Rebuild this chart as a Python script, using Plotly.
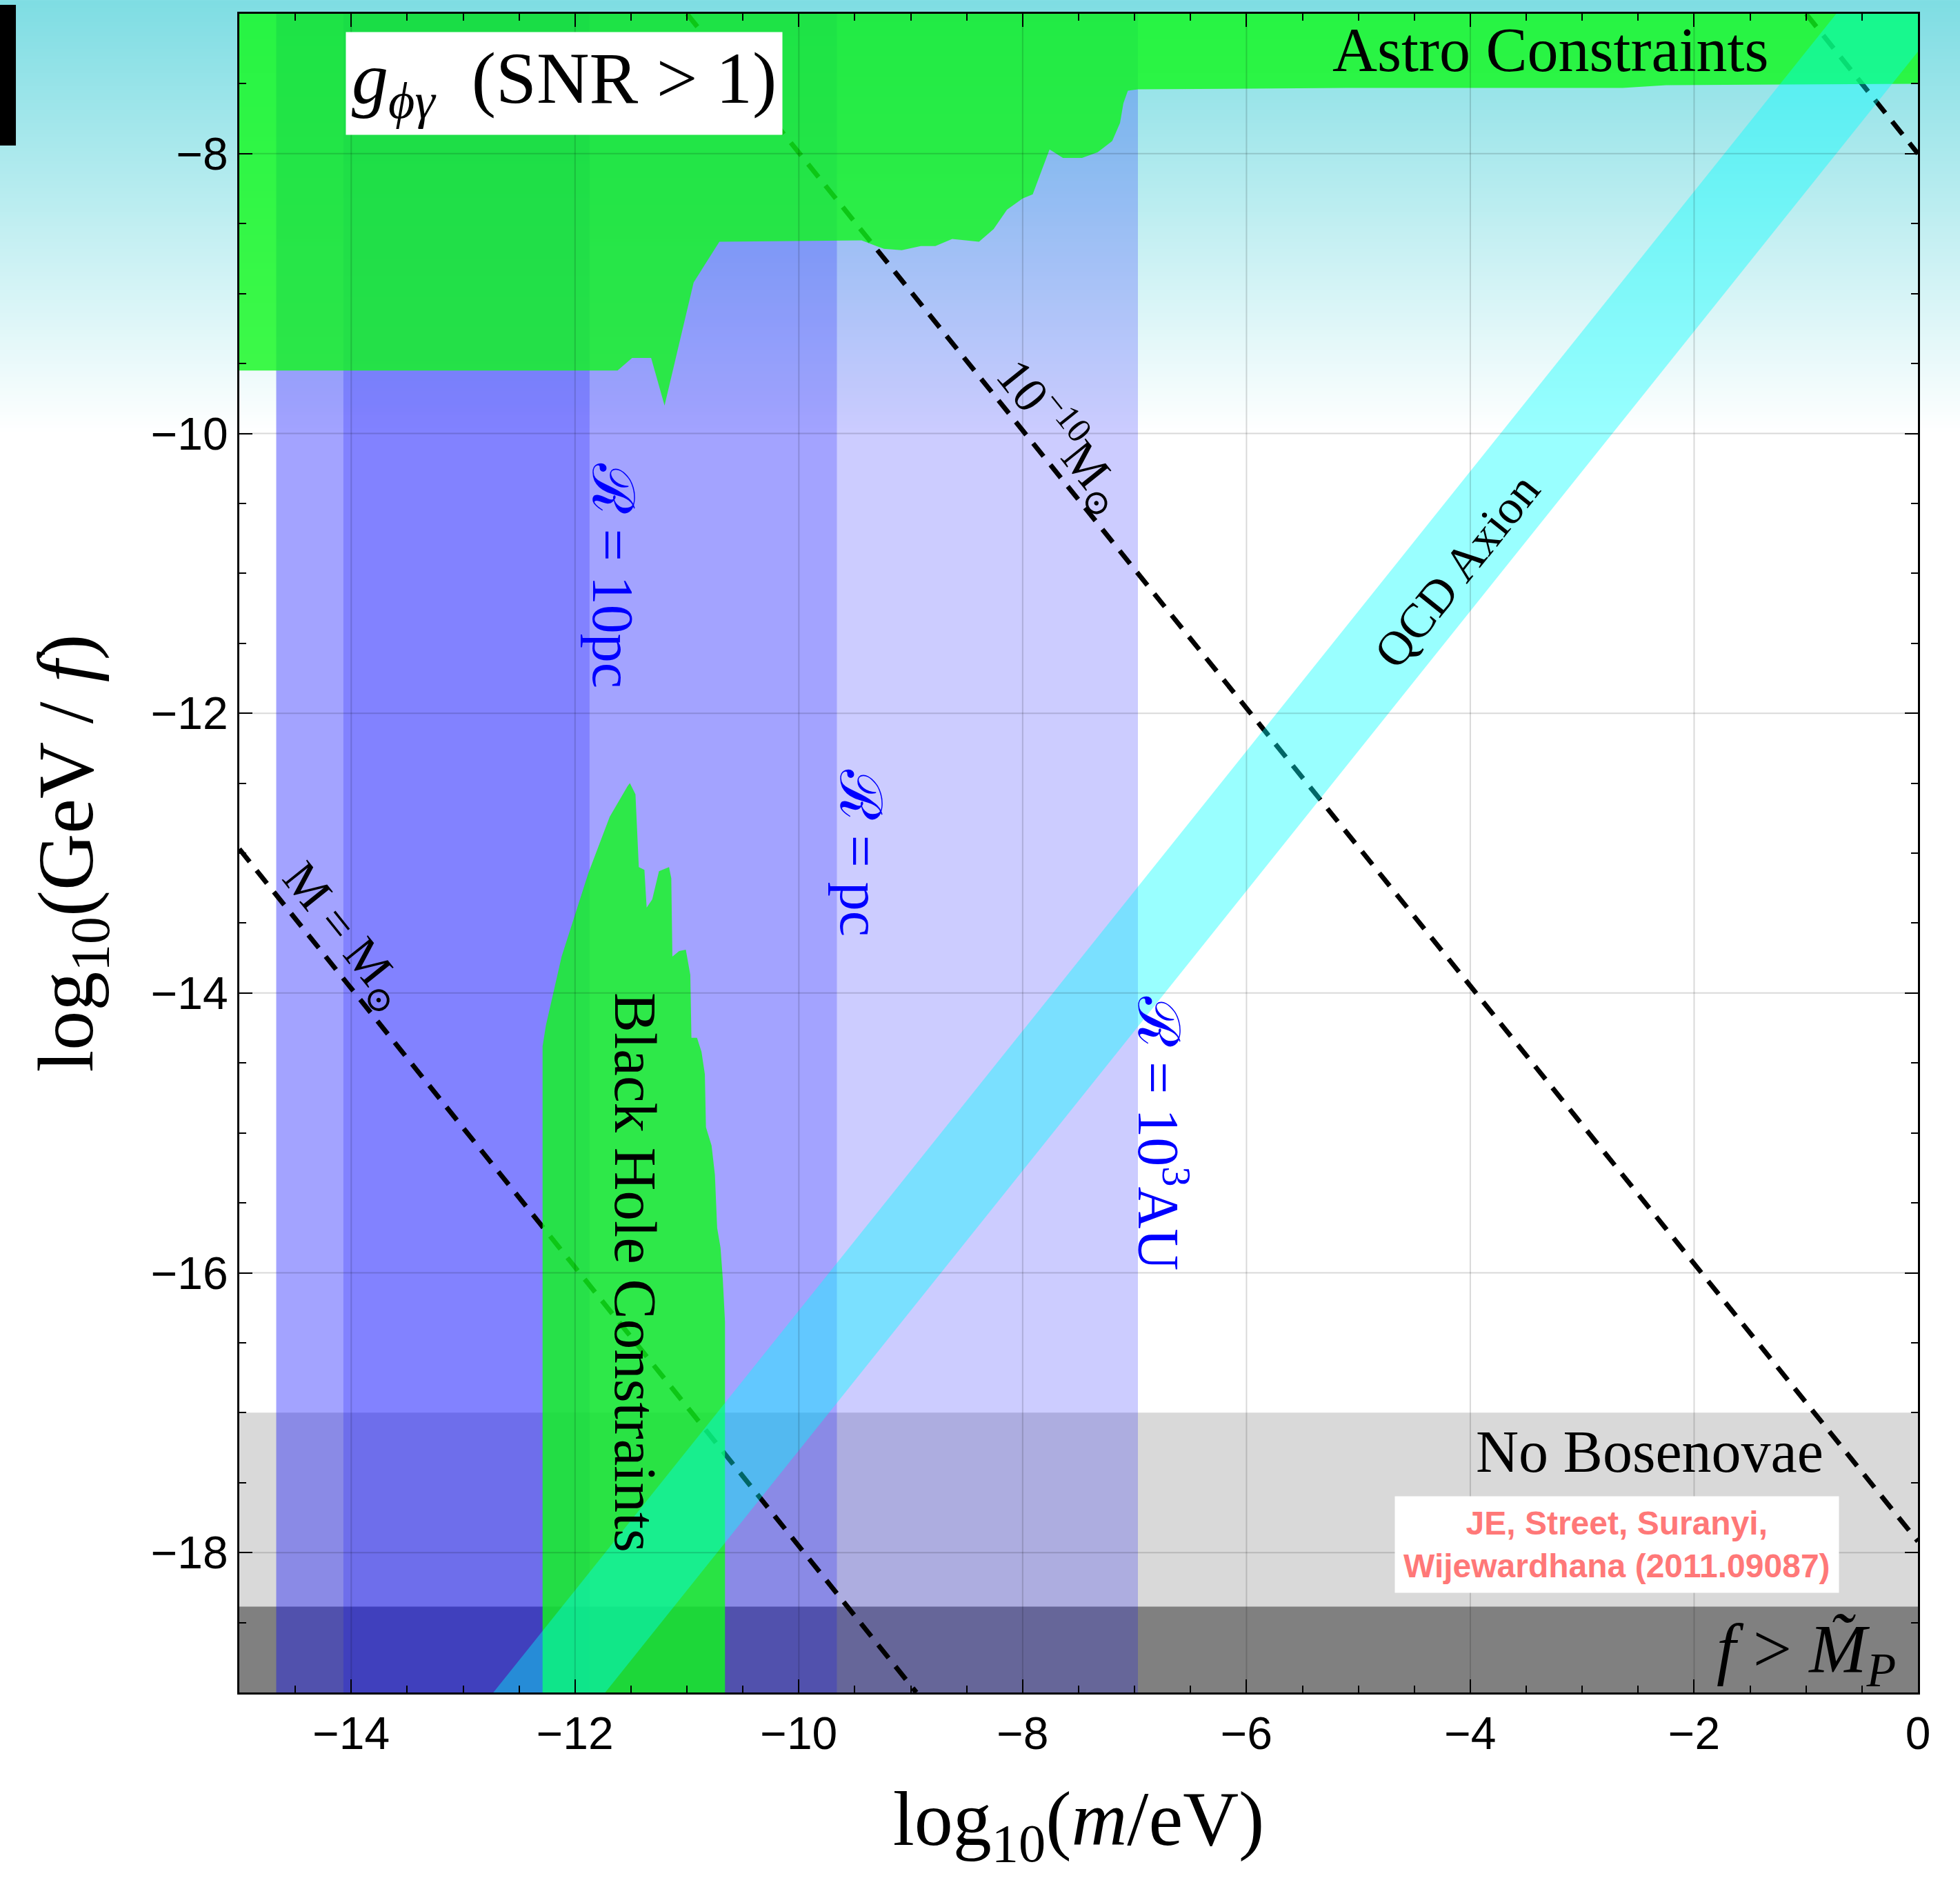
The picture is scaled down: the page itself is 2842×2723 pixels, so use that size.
import base64
import struct
import zlib
import plotly.graph_objects as go

# ---------------- data ----------------
x_range = [-15, 0]
y_range = [-19, -7]
x_ticks = [-14, -12, -10, -8, -6, -4, -2, 0]
y_ticks = [-18, -16, -14, -12, -10, -8]

# radius bands (log10 m edges)
band_labels = ["ℛ = 10<sup>3</sup>AU", "ℛ = pc", "ℛ = 10pc"]
band_x0 = [-14.67, -14.67, -14.07]
band_x1 = [-6.97, -9.66, -11.87]
band_label_x = [-6.75, -9.45, -11.66]
band_label_y = [-15.0, -13.0, -11.02]

# horizontal exclusions
bosenova_top = -17.0
planck_top = -18.386

# astro constraints (upper green region) boundary
astro_x = [-15.0, -15.0, -11.62, -11.49, -11.32, -11.20, -10.94, -10.71, -9.44,
           -9.24, -9.08, -8.91, -8.78, -8.63, -8.39, -8.26, -8.14, -8.00, -7.91,
           -7.83, -7.76, -7.64, -7.47, -7.33, -7.20, -7.13, -7.10, -7.06, -6.97,
           -5.12, -2.64, -2.25, 0.0, 0.0]
astro_y = [-7.0, -9.55, -9.55, -9.46, -9.46, -9.80, -8.92, -8.63, -8.62,
           -8.68, -8.69, -8.66, -8.66, -8.61, -8.63, -8.54, -8.40, -8.32, -8.29,
           -8.12, -7.97, -8.03, -8.03, -7.99, -7.91, -7.78, -7.64, -7.55, -7.54,
           -7.53, -7.53, -7.51, -7.50, -7.0]

# black hole superradiance constraints boundary
bh_x = [-11.51, -11.46, -11.43, -11.38, -11.36, -11.31, -11.25, -11.16, -11.14,
        -11.13, -11.07, -11.01, -10.97, -10.96, -10.91, -10.87, -10.84, -10.83,
        -10.78, -10.75, -10.73, -10.70, -10.68, -10.66, -10.66, -12.29, -12.29,
        -12.26, -12.12, -11.88, -11.69, -11.53]
bh_y = [-12.50, -12.58, -13.10, -13.12, -13.39, -13.33, -13.13, -13.10, -13.18,
        -13.74, -13.70, -13.69, -13.87, -14.32, -14.32, -14.42, -14.58, -14.96,
        -15.09, -15.30, -15.68, -15.82, -16.04, -16.35, -19.0, -19.0, -14.38,
        -14.23, -13.74, -13.14, -12.74, -12.52]

# QCD axion band corners
qcd_x = [-12.73, -0.73, 0.27, -11.73]
qcd_y = [-19.0, -7.0, -7.0, -19.0]

# constant-mass dashed lines (end points)
msun_x, msun_y = [-15.0, -8.95], [-12.97, -19.0]
m10_x, m10_y = [-11.0, 0.0], [-7.0, -17.92]
m20_x, m20_y = [-1.0, 0.0], [-7.0, -8.0]

# ---------------- styling ----------------
SERIF = "Liberation Serif, DejaVu Serif, serif"
SANS = "Liberation Sans, Arial, sans-serif"
BLUE = "rgba(0,0,255,0.2)"
GREEN = "rgba(16,249,28,0.8)"
CYAN = "rgba(0,255,255,0.4)"


def gradient_png(top, bottom, n=128):
    rows = b""
    for i in range(n):
        t = i / (n - 1)
        c = bytes(int(round(top[k] + (bottom[k] - top[k]) * t)) for k in range(3))
        rows += b"\x00" + c

    def chunk(tag, data):
        return (struct.pack(">I", len(data)) + tag + data +
                struct.pack(">I", zlib.crc32(tag + data) & 0xffffffff))

    png = b"\x89PNG\r\n\x1a\n"
    png += chunk(b"IHDR", struct.pack(">IIBBBBB", 1, n, 8, 2, 0, 0, 0))
    png += chunk(b"IDAT", zlib.compress(rows))
    png += chunk(b"IEND", b"")
    return "data:image/png;base64," + base64.b64encode(png).decode()


fig = go.Figure()


def poly(xs, ys, color):
    fig.add_trace(go.Scatter(x=xs, y=ys, fill="toself", fillcolor=color,
                             mode="lines", line=dict(width=0, color=color),
                             hoverinfo="skip", showlegend=False))


# gray exclusion bands
poly([x_range[0], x_range[1], x_range[1], x_range[0]],
     [y_range[0], y_range[0], bosenova_top, bosenova_top], "#d9d9d9")
poly([x_range[0], x_range[1], x_range[1], x_range[0]],
     [y_range[0], y_range[0], planck_top, planck_top], "#808080")

# blue radius bands
for x0, x1 in zip(band_x0, band_x1):
    poly([x0, x1, x1, x0], [y_range[0], y_range[0], y_range[1], y_range[1]], BLUE)

# dashed lines
for lx, ly in [(msun_x, msun_y), (m10_x, m10_y), (m20_x, m20_y)]:
    fig.add_trace(go.Scatter(x=lx, y=ly, mode="lines",
                             line=dict(color="black", width=7, dash="24px,16px"),
                             hoverinfo="skip", showlegend=False))

# green constraints
poly(astro_x, astro_y, GREEN)
poly(bh_x, bh_y, GREEN)

# QCD axion band
poly(qcd_x, qcd_y, CYAN)

# grid lines on top
gx, gy = [], []
for t in x_ticks:
    if x_range[0] < t < x_range[1]:
        gx += [t, t, None]
        gy += [y_range[0], y_range[1], None]
for t in y_ticks:
    if y_range[0] < t < y_range[1]:
        gx += [x_range[0], x_range[1], None]
        gy += [t, t, None]
fig.add_trace(go.Scatter(x=gx, y=gy, mode="lines",
                         line=dict(color="rgba(0,0,0,0.15)", width=2),
                         hoverinfo="skip", showlegend=False))

# ---------------- annotations ----------------
ann = []


def label(text, x, y, size, color="black", angle=0, family=SERIF, **kw):
    ann.append(dict(text=text, x=x, y=y, xref="x", yref="y", showarrow=False,
                    textangle=angle, font=dict(family=family, size=size, color=color),
                    xanchor="center", yanchor="middle", **kw))


label("<i>g</i><sub><i>ϕγ</i></sub>  (SNR &gt; 1)", -12.10, -7.50, 106,
      bgcolor="white", borderpad=8)
label("Astro Constraints", -3.28, -7.26, 90)
label("No Bosenovae", -2.40, -17.28, 86)
label("<i>f</i> &gt; <i>M̃</i><sub><i>P</i></sub>", -1.0, -18.72, 100)
label("<b>JE, Street, Suranyi,<br>Wijewardhana (2011.09087)</b>", -2.69, -17.94, 48,
      color="#ff7878", family=SANS, bgcolor="white", borderpad=12)
for t, bx, by in zip(band_labels, band_label_x, band_label_y):
    label(t, bx, by, 84, color="#0000ff", angle=90)
label("Black Hole Constraints", -11.46, -16.0, 87, angle=90)
label("10<sup>−10</sup>M<sub>⊙</sub>", -7.64, -10.01, 72, angle=51.3)
label("M = M<sub>⊙</sub>", -14.06, -13.60, 72, angle=51.3)
label("QCD Axion", -4.12, -10.98, 70, angle=-51.3)

axis_common = dict(
    showline=True, linecolor="black", linewidth=3, mirror="allticks",
    ticks="inside", ticklen=19, tickwidth=2, tickcolor="black",
    showgrid=False, zeroline=False,
    tickfont=dict(family=SANS, size=66, color="black"),
    minor=dict(dtick=0.5, tick0=0, ticks="inside", ticklen=10, tickwidth=2,
               tickcolor="black", showgrid=False),
)

fig.update_layout(
    width=2842, height=2723, autosize=False,
    margin=dict(l=347, r=61, t=20, b=269, pad=0),
    paper_bgcolor="white", plot_bgcolor="rgba(0,0,0,0)",
    showlegend=False,
    xaxis=dict(range=x_range, tickvals=x_ticks, **axis_common,
               title=dict(text="log<sub>10</sub>(<i>m</i>/eV)",
                          font=dict(family=SERIF, size=112, color="black"),
                          standoff=48)),
    yaxis=dict(range=y_range, tickvals=y_ticks, **axis_common,
               title=dict(text="log<sub>10</sub>(GeV / <i>f</i>)",
                          font=dict(family=SERIF, size=114, color="black"),
                          standoff=46)),
    annotations=ann,
    images=[dict(source=gradient_png((127, 221, 227), (255, 255, 255)),
                 xref="paper", yref="paper", x=-0.2, y=1.0082, sizex=1.4,
                 sizey=0.2582, sizing="stretch", xanchor="left", yanchor="top",
                 layer="below")],
    shapes=[dict(type="rect", xref="paper", yref="paper", x0=-0.1426, x1=-0.1331,
                 y0=0.9215, y1=1.0053, fillcolor="black", line=dict(width=0),
                 layer="above")],
)

fig.write_html("out.html")
